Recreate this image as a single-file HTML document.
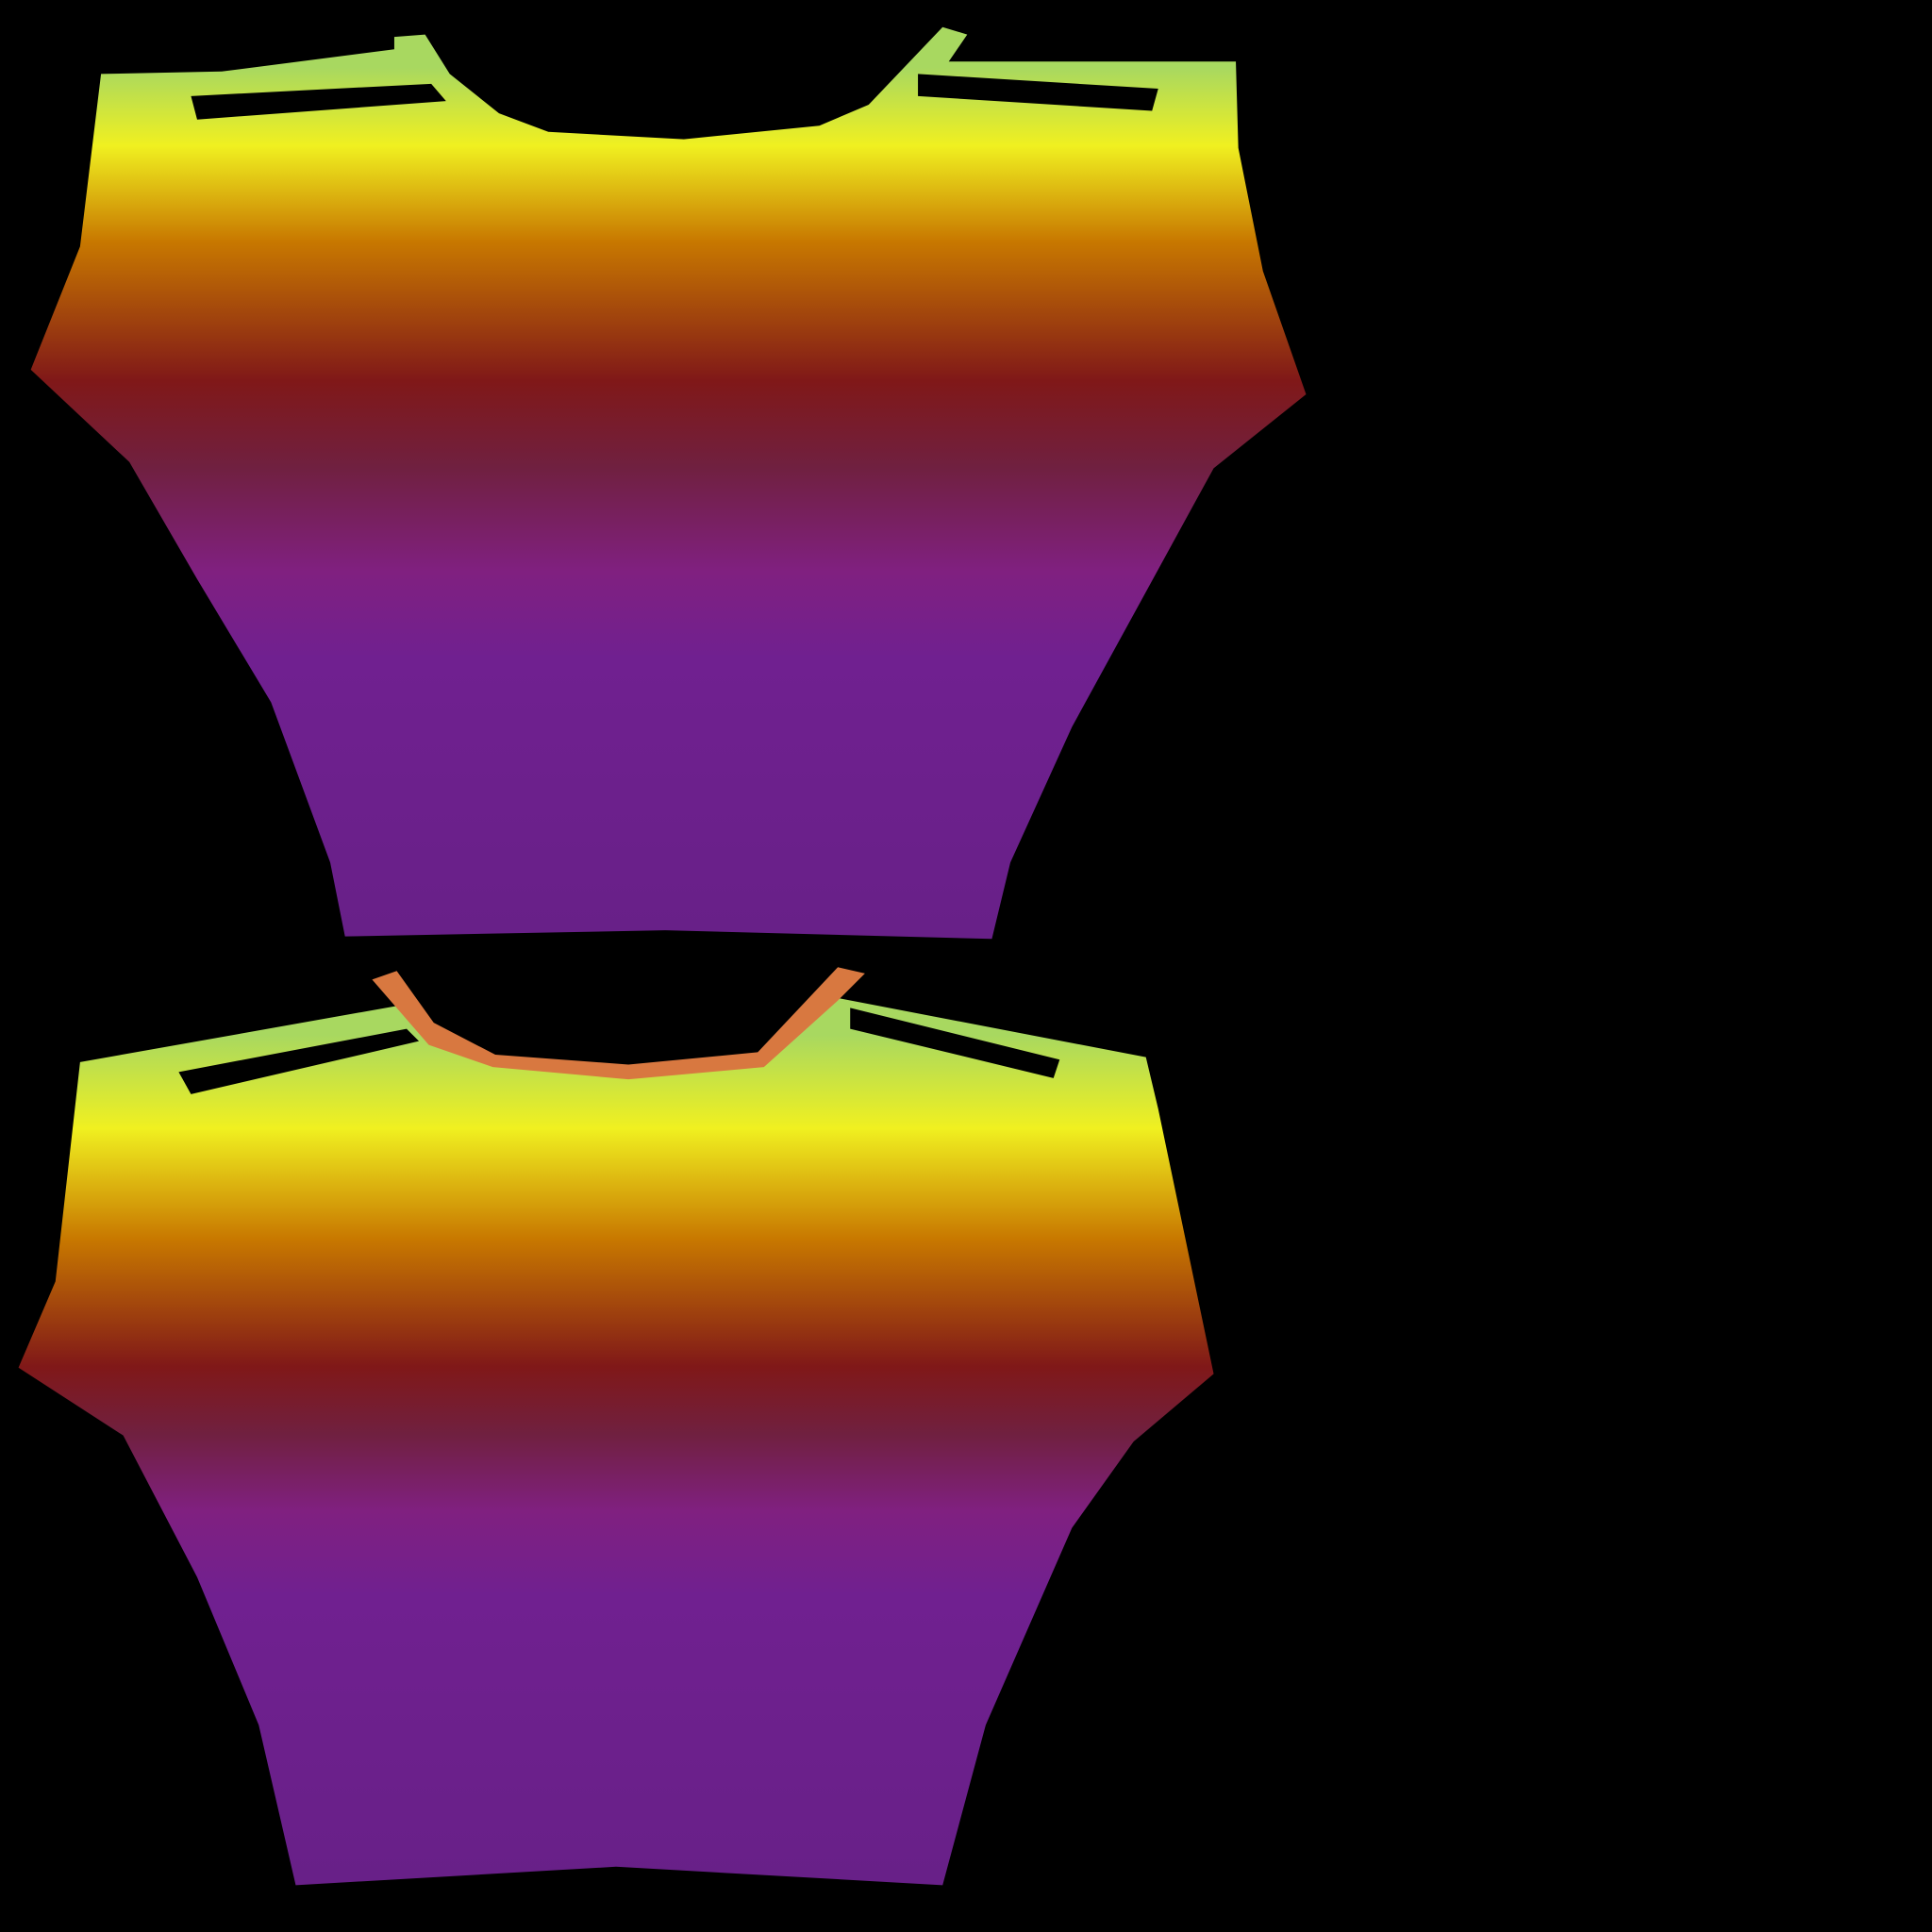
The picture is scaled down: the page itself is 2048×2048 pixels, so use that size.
<!DOCTYPE html>
<html><head><meta charset="utf-8"><style>
html,body{margin:0;padding:0;background:#000;width:2048px;height:2048px;overflow:hidden}
svg{display:block}
</style></head><body>
<svg width="2048" height="2048" viewBox="0 0 1568 1568" xmlns="http://www.w3.org/2000/svg">
<defs>
<linearGradient id="g1" gradientUnits="userSpaceOnUse" x1="0" y1="55" x2="0" y2="760">
<stop offset="0" stop-color="#a8d860"/>
<stop offset="0.09" stop-color="#f0f020"/>
<stop offset="0.2" stop-color="#c87800"/>
<stop offset="0.36" stop-color="#801818"/>
<stop offset="0.46" stop-color="#702040"/>
<stop offset="0.58" stop-color="#802080"/>
<stop offset="0.68" stop-color="#702090"/>
<stop offset="1" stop-color="#682088"/>
</linearGradient>
<linearGradient id="g2" gradientUnits="userSpaceOnUse" x1="0" y1="840" x2="0" y2="1530">
<stop offset="0" stop-color="#a8d860"/>
<stop offset="0.11" stop-color="#f0f020"/>
<stop offset="0.24" stop-color="#c87800"/>
<stop offset="0.39" stop-color="#801818"/>
<stop offset="0.47" stop-color="#702040"/>
<stop offset="0.56" stop-color="#802080"/>
<stop offset="0.66" stop-color="#702090"/>
<stop offset="1" stop-color="#682088"/>
</linearGradient>
</defs>
<path fill="url(#g1)" d="M82,60 L180,58 L320,40 L320,30 L345,28 L365,60 L405,92 L445,107 L555,113 L665,102 L705,85 L765,22 L785,28 L770,50 L1003,50 L1005,120 L1025,220 L1060,320 L985,380 L870,590 L820,700 L805,762 L540,755 L280,760 L268,700 L220,570 L160,470 L105,375 L25,300 L65,200 Z"/>
<path fill="#000" d="M155,78 L350,68 L362,82 L160,97 Z"/>
<path fill="#000" d="M745,60 L940,72 L935,90 L745,78 Z"/>
<path fill="url(#g2)" d="M65,862 L330,815 L350,848 L400,865 L510,875 L620,865 L680,810 L930,858 L940,900 L985,1115 L920,1170 L870,1240 L800,1400 L765,1530 L500,1515 L240,1530 L210,1400 L160,1280 L100,1165 L15,1110 L45,1040 Z"/>
<path fill="#d87840" d="M302,795 L322,788 L352,830 L402,856 L510,864 L615,854 L680,785 L702,790 L680,812 L620,866 L510,876 L400,866 L348,848 Z"/>
<path fill="#000" d="M145,870 L330,835 L340,845 L155,888 Z"/>
<path fill="#000" d="M690,818 L860,860 L855,875 L690,835 Z"/>
</svg>
</body></html>
